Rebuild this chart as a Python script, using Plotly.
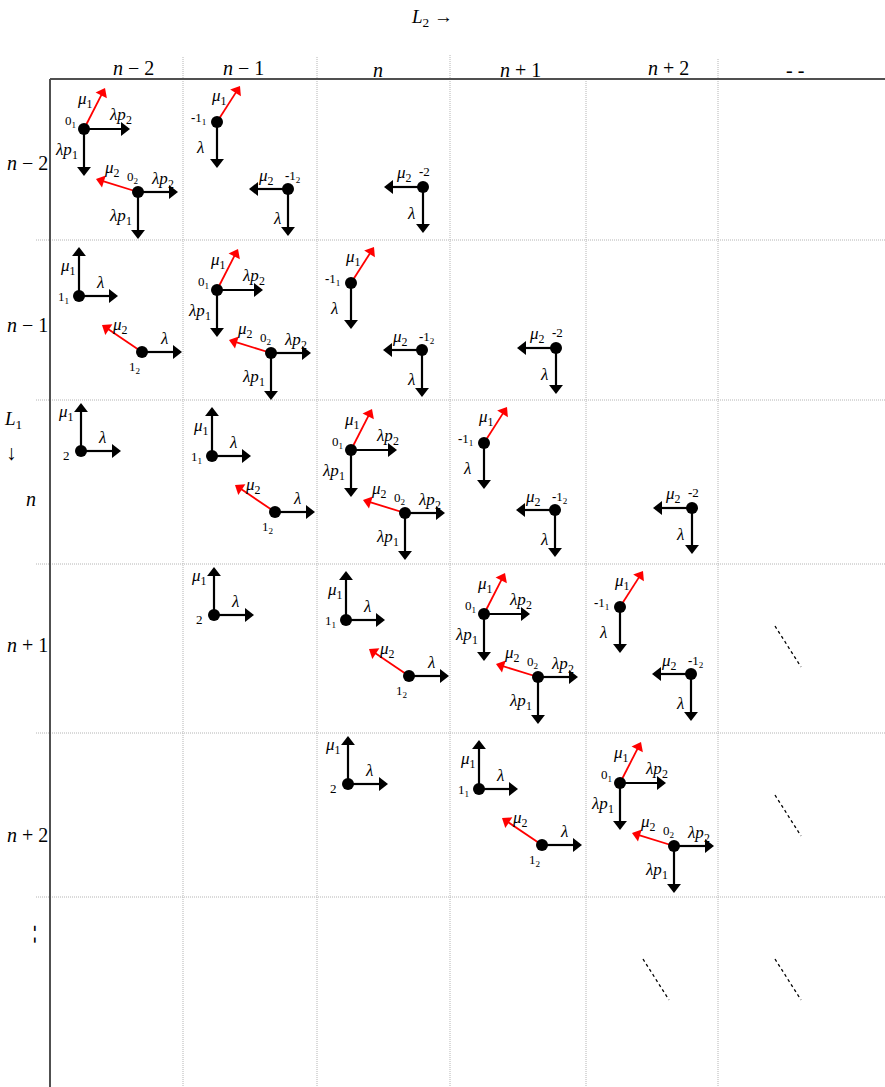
import math
import plotly.graph_objects as go

# ---------------- data ----------------
title_text = "<i>L</i><sub>2</sub> →"
col_labels = ["<i>n</i> − 2", "<i>n</i> − 1", "<i>n</i>", "<i>n</i> + 1", "<i>n</i> + 2", "- -"]
row_labels = ["<i>n</i> − 2", "<i>n</i> − 1", "<i>n</i>", "<i>n</i> + 1", "<i>n</i> + 2", "- -"]
side_label = "<i>L</i><sub>1</sub>"

# cell contents: row index, column index, state group
cell_rows = [0, 0, 0, 1, 1, 1, 1, 2, 2, 2, 2, 2, 3, 3, 3, 3, 3, 4, 4, 4, 4, 5, 5]
cell_cols = [0, 1, 2, 0, 1, 2, 3, 0, 1, 2, 3, 4, 1, 2, 3, 4, 5, 2, 3, 4, 5, 4, 5]
cell_states = ["0", "-1", "-2",
               "1", "0", "-1", "-2",
               "2", "1", "0", "-1", "-2",
               "2", "1", "0", "-1", "..",
               "2", "1", "0", "..",
               "..", ".."]

# ---------------- layout geometry ----------------
W, H = 885, 1087
col_edges = [50, 183, 317, 450, 586, 718, 885]
row_edges = [79, 240, 400, 564, 733, 897, 1087]
col_line_top = [57, 57, 55, 79, 59]
col_label_pos = [(133, 68), (243, 68), (378, 70), (520, 70), (668, 68), (795, 70)]
row_label_pos = [(27, 163), (27, 325), (31, 499), (27, 645), (27, 835), (37, 934)]

RED = "#ff0000"
BLK = "#000000"
mu1 = "<i>μ</i><sub>1</sub>"
mu2 = "<i>μ</i><sub>2</sub>"
lam = "<i>λ</i>"
lp1 = "<i>λp</i><sub>1</sub>"
lp2 = "<i>λp</i><sub>2</sub>"
neg = "<b>-</b>"

# glyph templates: dot offset in cell, name, name offset, arrows (dx, dy, color, label, label offset)
TEMPLATES = {
    "0": [
        dict(dot=(34, 50), name="0<sub>1</sub>", noff=(-14, -8),
             arrows=[(21, -41, RED, mu1, (1, -29)), (46, 0, BLK, lp2, (36, -13)), (0, 47, BLK, lp1, (-18, 22))]),
        dict(dot=(88, 113), name="0<sub>2</sub>", noff=(-5, -15),
             arrows=[(-42, -13, RED, mu2, (-26, -23)), (40, 0, BLK, lp2, (24, -12)), (0, 47, BLK, lp1, (-18, 25))]),
    ],
    "-1": [
        dict(dot=(34, 43), name=neg + "1<sub>1</sub>", noff=(-19, -4),
             arrows=[(23, -36, RED, mu1, (2, -25)), (0, 46, BLK, lam, (-17, 25))]),
        dict(dot=(105, 110), name=neg + "1<sub>2</sub>", noff=(5, -13),
             arrows=[(-39, 0, BLK, mu2, (-22, -12)), (0, 47, BLK, lam, (-11, 29))]),
    ],
    "-2": [
        dict(dot=(106, 108), name=neg + "2", noff=(1, -16),
             arrows=[(-39, 0, BLK, mu2, (-19, -13)), (0, 46, BLK, lam, (-12, 26))]),
    ],
    "1": [
        dict(dot=(29, 56), name="1<sub>1</sub>", noff=(-16, 1),
             arrows=[(0, -49, BLK, mu1, (-11, -29)), (39, 0, BLK, lam, (21, -14))]),
        dict(dot=(92, 112), name="1<sub>2</sub>", noff=(-7, 15),
             arrows=[(-40, -27, RED, mu2, (-22, -26)), (40, 0, BLK, lam, (22, -14))]),
    ],
    "2": [
        dict(dot=(31, 51), name="2", noff=(-15, 4),
             arrows=[(0, -48, BLK, mu1, (-15, -38)), (40, 0, BLK, lam, (21, -14))]),
    ],
}
DASH_SEG = ((57, 62), (83, 103))

fig = go.Figure()
shapes = []
annotations = []

GRID = dict(color="#b4b4b4", width=1, dash="1px,1px")
for x, top in zip(col_edges[1:-1], col_line_top):
    shapes.append(dict(type="line", xref="x", yref="y", x0=x, x1=x, y0=top, y1=H, line=GRID, layer="below"))
for y in row_edges[1:-1]:
    shapes.append(dict(type="line", xref="x", yref="y", x0=36, x1=W, y0=y, y1=y, line=GRID, layer="below"))
shapes.append(dict(type="line", xref="x", yref="y", x0=50, x1=W, y0=row_edges[0], y1=row_edges[0],
                   line=dict(color="#505050", width=2)))
shapes.append(dict(type="line", xref="x", yref="y", x0=50, x1=50, y0=row_edges[0], y1=H,
                   line=dict(color="#505050", width=2)))

FONT = "Liberation Serif, Times New Roman, serif"


def text(x, y, s, size=16, angle=0):
    annotations.append(dict(x=x, y=y, xref="x", yref="y", text=s, showarrow=False,
                            font=dict(family=FONT, size=size, color="black"),
                            xanchor="center", yanchor="middle", textangle=angle))


text(432, 18, title_text, size=19)
for (x, y), s in zip(col_label_pos, col_labels):
    text(x, y, s, size=20)
for i, ((x, y), s) in enumerate(zip(row_label_pos, row_labels)):
    text(x, y, s, size=20, angle=90 if i == len(row_labels) - 1 else 0)
text(13, 420, side_label, size=19)
text(11, 453, "↓", size=21)

dot_x, dot_y = [], []
lines = {BLK: ([], []), RED: ([], [])}
heads = {BLK: ([], [], []), RED: ([], [], [])}
HEAD = {BLK: 12, RED: 11}

for r, c, st in zip(cell_rows, cell_cols, cell_states):
    cx, cy = col_edges[c], row_edges[r]
    if st == "..":
        (x0, y0), (x1, y1) = DASH_SEG
        shapes.append(dict(type="line", xref="x", yref="y", x0=cx + x0, y0=cy + y0,
                           x1=cx + x1, y1=cy + y1,
                           line=dict(color="black", width=1.3, dash="3px,3px")))
        continue
    for sub in TEMPLATES[st]:
        dx, dy = sub["dot"]
        px, py = cx + dx, cy + dy
        dot_x.append(px)
        dot_y.append(py)
        text(px + sub["noff"][0], py + sub["noff"][1], sub["name"], size=13)
        for ax_, ay_, col, lab, (lx, ly) in sub["arrows"]:
            L = math.hypot(ax_, ay_)
            ux, uy = ax_ / L, ay_ / L
            tx, ty = px + ax_, py + ay_
            s = HEAD[col]
            lx_, ly_ = lines[col]
            back = 0.75 * s - 1
            lx_ += [px, tx - ux * back, None]
            ly_ += [py, ty - uy * back, None]
            hx, hy, ha = heads[col]
            hx.append(tx - ux * s / 2)
            hy.append(ty - uy * s / 2)
            ha.append(math.degrees(math.atan2(ux, -uy)))
            text(px + lx, py + ly, lab, size=17)

for col, w in ((BLK, 2.2), (RED, 1.8)):
    fig.add_trace(go.Scatter(x=lines[col][0], y=lines[col][1], mode="lines",
                             line=dict(color=col, width=w), hoverinfo="skip"))
for col in (BLK, RED):
    hx, hy, ha = heads[col]
    fig.add_trace(go.Scatter(x=hx, y=hy, mode="markers", hoverinfo="skip",
                             marker=dict(symbol="triangle-up", size=HEAD[col], angle=ha, color=col,
                                         line=dict(width=0))))
fig.add_trace(go.Scatter(x=dot_x, y=dot_y, mode="markers",
                         marker=dict(size=12, color="black"), hoverinfo="skip"))

fig.update_layout(
    width=W, height=H, margin=dict(l=0, r=0, t=0, b=0),
    paper_bgcolor="white", plot_bgcolor="white", showlegend=False,
    xaxis=dict(range=[0, W], visible=False, fixedrange=True),
    yaxis=dict(range=[H, 0], visible=False, fixedrange=True),
    shapes=shapes, annotations=annotations,
)

fig.write_html("out.html", config=dict(displayModeBar=False),
               post_script="document.body.style.margin='0';document.body.style.overflow='hidden';")
